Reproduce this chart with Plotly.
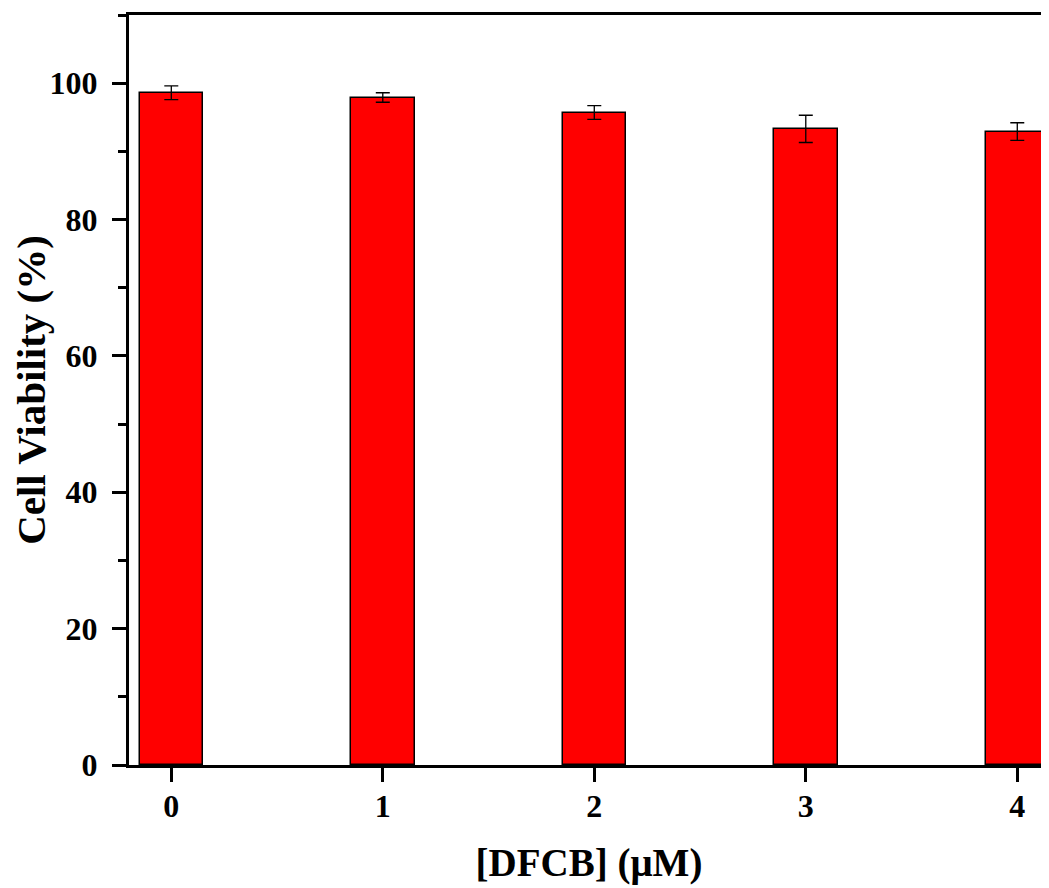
import plotly.graph_objects as go

concentrations = [0, 1, 2, 3, 4]
viability = [98.6, 97.9, 95.7, 93.3, 92.9]
errors = [1.0, 0.7, 1.0, 2.0, 1.3]
y_ticks = [0, 20, 40, 60, 80, 100]

FONT = "Liberation Serif, Times New Roman, serif"

fig = go.Figure()
fig.add_trace(go.Bar(
    x=concentrations, y=viability, width=0.3,
    marker=dict(color="#ff0000", line=dict(color="black", width=1.5)),
    error_y=dict(type="data", array=errors, visible=True,
                 color="black", thickness=1.3, width=7),
    showlegend=False,
))

fig.update_layout(
    width=1041, height=880,
    margin=dict(l=121, r=0, t=7, b=123),
    plot_bgcolor="white", paper_bgcolor="white",
    font=dict(family=FONT, color="black", size=26, weight="bold"),
    bargap=0,
)
fig.update_xaxes(
    range=[-0.2, 4.15], tickvals=concentrations,
    ticktext=[str(c) for c in concentrations],
    showline=True, linecolor="black", linewidth=3, mirror=True,
    ticks="outside", ticklen=14, tickwidth=3, tickcolor="black",
    ticklabelstandoff=-3,
    showgrid=False, zeroline=False,
    tickfont=dict(family=FONT, size=32, weight="bold"),
    title=dict(text="[DFCB] (μM)", font=dict(family=FONT, size=39, weight="bold"), standoff=26),
)
fig.update_yaxes(
    range=[0, 110], tickvals=y_ticks,
    showline=True, linecolor="black", linewidth=3,
    ticks="outside", ticklen=14, tickwidth=3, tickcolor="black",
    ticklabelstandoff=8,
    minor=dict(dtick=10, tick0=0, ticks="outside", ticklen=8, tickwidth=3, tickcolor="black", showgrid=False),
    showgrid=False, zeroline=False,
    tickfont=dict(family=FONT, size=32, weight="bold"),
    title=dict(text="Cell Viability (%)", font=dict(family=FONT, size=41, weight="bold"), standoff=14),
)

fig.write_html("out.html")
